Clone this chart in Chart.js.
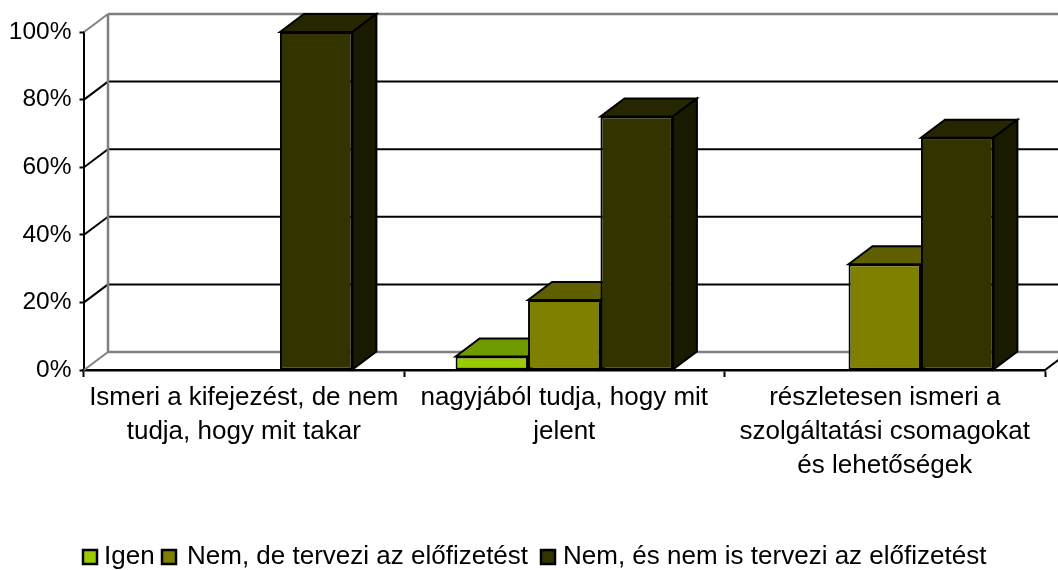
<!DOCTYPE html>
<html><head><meta charset="utf-8">
<style>html,body{margin:0;padding:0;background:#fff}canvas{display:block}</style>
<script src="https://cdn.jsdelivr.net/npm/chart.js@4/dist/chart.umd.js"></script>
</head><body>
<canvas id="c" width="1058" height="570"></canvas>
<script>
const categories = [
  ["Ismeri a kifejezést, de nem", "tudja, hogy mit takar"],
  ["nagyjából tudja, hogy mit", "jelent"],
  ["részletesen ismeri a", "szolgáltatási csomagokat", "és lehetőségek"]
];
const seriesNames = ["Igen", "Nem, de tervezi az előfizetést", "Nem, és nem is tervezi az előfizetést"];
const igen = [null, 4, null];
const nemTervezi = [null, 20.7, 31.3];
const nemSem = [100, 75, 68.7];
const yTicks = [0, 20, 40, 60, 80, 100];
const frontColors = ["#99CC00", "#808000", "#333300"];
const topColors = ["#6F9900", "#5F5F00", "#262600"];
const sideColors = ["#4D6600", "#404000", "#1A1A00"];

const DX = 24, DY = 18, FONT = '26px "Liberation Sans", Arial, sans-serif';

function poly(ctx, pts, fill, stroke, lw) {
  ctx.beginPath();
  pts.forEach((p, i) => i ? ctx.lineTo(p[0], p[1]) : ctx.moveTo(p[0], p[1]));
  ctx.closePath();
  if (fill) { ctx.fillStyle = fill; ctx.fill(); }
  if (stroke) { ctx.strokeStyle = stroke; ctx.lineWidth = lw; ctx.lineJoin = 'miter'; ctx.stroke(); }
}
function seg(ctx, x1, y1, x2, y2, color, lw) {
  ctx.beginPath(); ctx.moveTo(x1, y1); ctx.lineTo(x2, y2);
  ctx.strokeStyle = color; ctx.lineWidth = lw; ctx.stroke();
}

const depth3d = {
  id: 'depth3d',
  beforeDatasetsDraw(chart) {
    const ctx = chart.ctx, y = chart.scales.y, a = chart.chartArea;
    const wall = a.left + DX + 0.5;
    ctx.save();
    yTicks.forEach(v => {
      const p = y.getPixelForValue(v);
      const edge = v === 0 || v === 100;
      const col = edge ? '#808080' : '#000000';
      seg(ctx, a.left + 0.5, p, wall, p - DY, col, 2);
      seg(ctx, wall, p - DY, chart.width + 2, p - DY, col, edge ? 2.5 : 2);
    });
    seg(ctx, wall, y.getPixelForValue(0) - DY, wall, y.getPixelForValue(100) - DY, '#808080', 2.5);
    seg(ctx, a.right, a.bottom, a.right + DX, a.bottom - DY, '#000000', 2);
    chart.data.datasets.forEach((ds, di) => {
      chart.getDatasetMeta(di).data.forEach((bar, i) => {
        if (ds.data[i] == null) return;
        const p = bar.getProps(['x', 'y', 'base', 'width'], true);
        const l = p.x - p.width / 2, r = p.x + p.width / 2, t = p.y, b = p.base;
        poly(ctx, [[l, t], [l + DX, t - DY], [r + DX, t - DY], [r, t]], topColors[di], '#000', 2);
        poly(ctx, [[r, t], [r + DX, t - DY], [r + DX, b - DY], [r, b]], sideColors[di], '#000', 2);
      });
    });
    ctx.restore();
  }
};

const bottomLegend = {
  id: 'bottomLegend',
  afterDraw(chart) {
    const ctx = chart.ctx, box = 14, cy = 557;
    const boxLeft = [83, 162, 541], textLeft = [104, 187, 563];
    ctx.save();
    ctx.font = FONT; ctx.textBaseline = 'middle'; ctx.textAlign = 'left';
    chart.data.datasets.forEach((ds, i) => {
      ctx.fillStyle = ds.backgroundColor;
      ctx.fillRect(boxLeft[i], cy - box / 2, box, box);
      ctx.strokeStyle = '#000'; ctx.lineWidth = 2.5;
      ctx.strokeRect(boxLeft[i], cy - box / 2, box, box);
      ctx.fillStyle = '#000';
      ctx.fillText(ds.label, textLeft[i], cy);
    });
    ctx.restore();
  }
};

Chart.defaults.font.family = '"Liberation Sans", Arial, sans-serif';
new Chart(document.getElementById('c'), {
  type: 'bar',
  data: {
    labels: categories,
    datasets: [igen, nemTervezi, nemSem].map((d, i) => ({
      label: seriesNames[i], data: d,
      backgroundColor: frontColors[i],
      borderColor: '#000', borderWidth: 2, borderSkipped: false,
      categoryPercentage: 0.678, barPercentage: 1
    }))
  },
  options: {
    responsive: false, animation: false,
    layout: { padding: { top: 32, right: 13, left: 0, bottom: 0 } },
    plugins: { legend: { display: false }, tooltip: { enabled: false } },
    scales: {
      x: {
        afterFit(s) { s.height = 200; },
        border: { color: '#000', width: 2.5 },
        grid: { offset: true, drawOnChartArea: false, color: '#000', tickLength: 7, tickWidth: 2 },
        ticks: { color: '#000', font: { size: 26, lineHeight: 1.3 }, maxRotation: 0, autoSkip: false, padding: 4 }
      },
      y: {
        min: 0, max: 100,
        afterFit(s) { s.width = 83.5; },
        border: { color: '#000', width: 2 },
        grid: { drawOnChartArea: false, color: '#000', tickLength: 4, tickWidth: 2 },
        ticks: { color: '#000', stepSize: 20, font: { size: 24.5 }, padding: 8, callback: v => v + '%' }
      }
    }
  },
  plugins: [depth3d, bottomLegend]
});
</script>
</body></html>
